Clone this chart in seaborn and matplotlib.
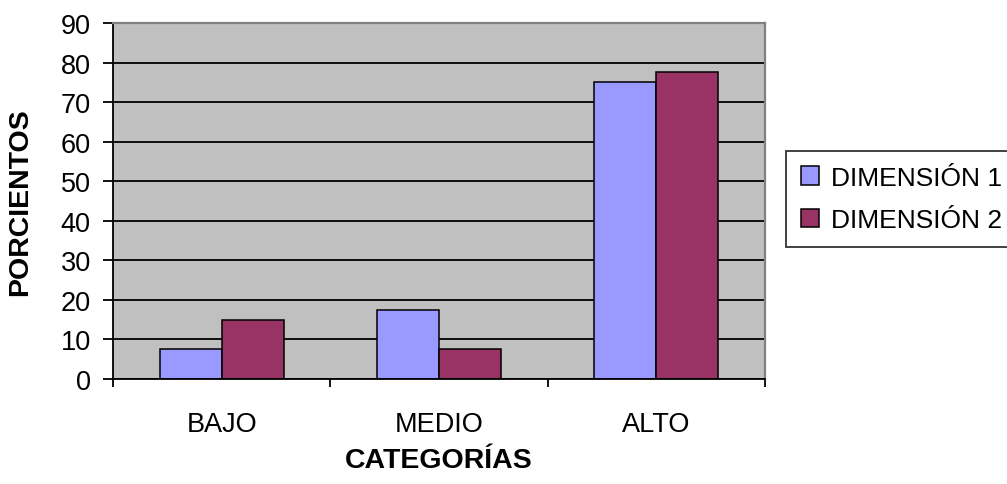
import matplotlib
matplotlib.use("Agg")
import matplotlib.pyplot as plt
from matplotlib.ticker import FixedLocator
import seaborn as sns
import pandas as pd

# Percentages per category for each dimension
categorias = ["BAJO", "MEDIO", "ALTO"]
series = ["DIMENSIÓN 1", "DIMENSIÓN 2"]
dimension_1 = [7.5, 17.5, 75.0]
dimension_2 = [15.0, 7.5, 77.5]
y_ticks = [0, 10, 20, 30, 40, 50, 60, 70, 80, 90]

df = pd.DataFrame({
    "categoria": categorias * 2,
    "serie": [series[0]] * 3 + [series[1]] * 3,
    "porcentaje": dimension_1 + dimension_2,
})

sns.set_theme(style="white")
plt.rcParams["font.family"] = ["Liberation Sans", "DejaVu Sans"]
plt.rcParams["text.color"] = "black"
plt.rcParams["axes.labelcolor"] = "black"
plt.rcParams["xtick.color"] = "black"
plt.rcParams["ytick.color"] = "black"

W, H = 1007, 485
fig = plt.figure(figsize=(W / 100, H / 100), dpi=100)
ax = fig.add_axes([113 / W, 1 - 380 / H, (765 - 113) / W, (380 - 24) / H])

palette = {series[0]: "#9999FF", series[1]: "#993366"}
sns.barplot(data=df, x="categoria", y="porcentaje", hue="serie",
            order=categorias, hue_order=series, palette=palette,
            width=2 / 3.5, gap=0, edgecolor="black", linewidth=1.1,
            saturation=1, ax=ax)

ax.set_facecolor("#C0C0C0")
ax.set_axisbelow(True)
ax.set_ylim(0, 90)
ax.set_xlim(-0.5, 2.5)
ax.set_yticks(y_ticks)
ax.yaxis.grid(True, color="black", linewidth=1.3)
ax.xaxis.grid(False)

# Category labels at the centres, tick marks at the category boundaries
ax.set_xticks(range(len(categorias)))
ax.set_xticklabels(categorias)
ax.xaxis.set_minor_locator(FixedLocator([-0.5, 0.5, 1.5, 2.5]))
ax.tick_params(axis="x", which="major", length=0, pad=23, labelsize=19.5,
               labelcolor="black")
ax.tick_params(axis="x", which="minor", length=6, width=1.3, color="black",
               direction="out", bottom=True)
ax.tick_params(axis="y", which="major", length=7, width=1.3, color="black",
               direction="out", left=True, pad=9, labelsize=19.5,
               labelcolor="black")

for side in ("left", "bottom"):
    ax.spines[side].set_color("black")
    ax.spines[side].set_linewidth(1.3)
for side in ("top", "right"):
    ax.spines[side].set_color("#808080")
    ax.spines[side].set_linewidth(1.6)

ax.set_xlabel("CATEGORÍAS", fontsize=20.5, fontweight="bold", color="black")
ax.set_ylabel("PORCIENTOS", fontsize=20.5, fontweight="bold", color="black")
ax.xaxis.set_label_coords(0.5, -0.19)
ax.yaxis.set_label_coords(-0.1227, 0.5)

ax.get_legend().remove()
handles, labels = ax.get_legend_handles_labels()
leg = fig.legend(handles, labels, loc="upper left",
                 bbox_to_anchor=(786 / W, 1 - 152 / H),
                 fontsize=19, frameon=True, fancybox=False, shadow=False,
                 handlelength=0.7, handleheight=0.7, handletextpad=0.45,
                 labelspacing=0.7, borderpad=0.55, borderaxespad=0,
                 labelcolor="black")
leg.get_frame().set_edgecolor("black")
leg.get_frame().set_linewidth(1.3)
leg.get_frame().set_facecolor("white")

fig.savefig("out.png", dpi=100, facecolor="white")
